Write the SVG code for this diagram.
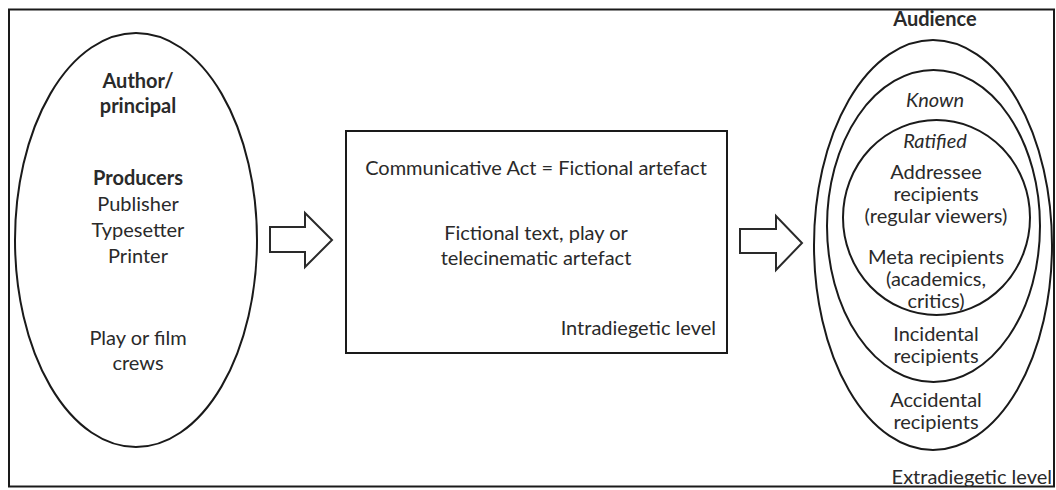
<svg xmlns="http://www.w3.org/2000/svg" width="1056" height="490" viewBox="0 0 1056 490">
<style>
.ln{fill:none;stroke:#1a1a1a;stroke-width:2}
.ar{fill:#fff;stroke:#2a2a2a;stroke-width:2;stroke-linejoin:miter}
text{font-family:Lato,"Liberation Sans",sans-serif;font-size:20px;fill:#2a2a2a;text-anchor:middle}
.b{font-weight:bold}
.i{font-style:italic}
.r{text-anchor:end}
</style>
<rect x="0" y="0" width="1056" height="490" fill="#fff"/>
<rect id="frame" class="ln" x="9" y="9.5" width="1045" height="477"/>
<g id="producers">
<ellipse class="ln" cx="136" cy="240" rx="121" ry="207"/>
<text class="b" x="138" y="88">Author/</text>
<text class="b" x="138" y="113">principal</text>
<text class="b" x="138" y="185">Producers</text>
<text x="138" y="211">Publisher</text>
<text x="138" y="237">Typesetter</text>
<text x="138" y="263">Printer</text>
<text x="138" y="345">Play or film</text>
<text x="138" y="370">crews</text>
</g>
<g id="artefact">
<rect class="ln" x="346" y="131" width="381" height="222"/>
<text x="536" y="175">Communicative Act = Fictional artefact</text>
<text x="536" y="240">Fictional text, play or</text>
<text x="536" y="265">telecinematic artefact</text>
<text class="r" x="716" y="335">Intradiegetic level</text>
</g>
<g id="audience">
<text class="b" x="935" y="26">Audience</text>
<ellipse class="ln" cx="933" cy="245" rx="119" ry="205"/>
<ellipse class="ln" cx="933.5" cy="226" rx="106.5" ry="156"/>
<ellipse class="ln" cx="936.5" cy="217.5" rx="93.5" ry="97.5"/>
<text class="i" x="935" y="107">Known</text>
<text class="i" x="935" y="148">Ratified</text>
<text x="936" y="179">Addressee</text>
<text x="936" y="201">recipients</text>
<text x="936" y="223">(regular viewers)</text>
<text x="936" y="264">Meta recipients</text>
<text x="936" y="286">(academics,</text>
<text x="936" y="308">critics)</text>
<text x="936" y="341">Incidental</text>
<text x="936" y="363">recipients</text>
<text x="936" y="407">Accidental</text>
<text x="936" y="429">recipients</text>
<text class="r" x="1052" y="484">Extradiegetic level</text>
</g>
<g id="connectors">
<path class="ar" d="M270,227 H305 V213 L332,240 L305,267 V252 H270 Z"/>
<path class="ar" d="M740,229 H776 V216 L802,243 L776,270 V253 H740 Z"/>
</g>
</svg>
